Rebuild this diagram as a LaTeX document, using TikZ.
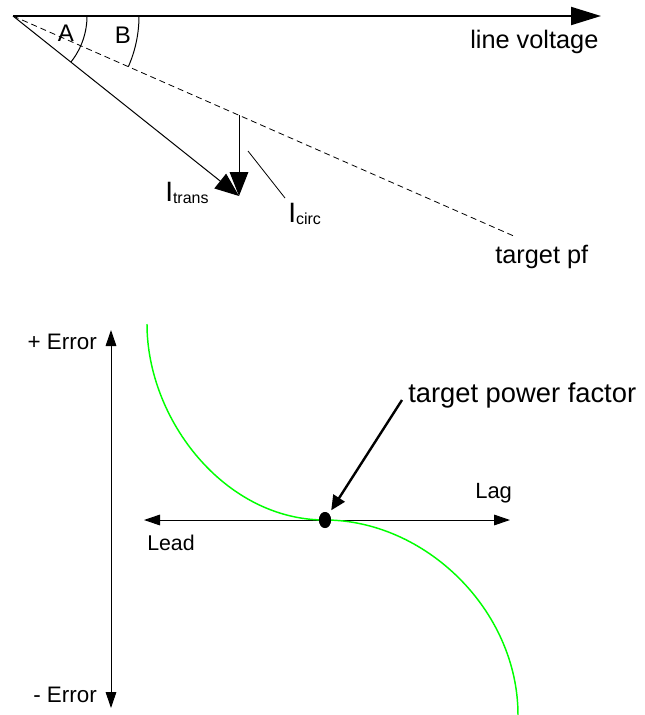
\documentclass[tikz,border=0pt]{standalone}
\usepackage{fontspec}
\setmainfont{Liberation Sans}
\usetikzlibrary{arrows.meta,shapes.geometric}

\tikzset{
  lbl/.style={inner sep=0pt,font=\fontsize{#1}{#1}\selectfont},
  mainarrow/.style={line width=1.5pt,-{Triangle[length=22.5pt,width=13.5pt]}},
  vecarrow/.style={line width=0.75pt,-{Triangle[length=18pt,width=14pt]}},
  axis/.style={line width=0.75pt,>={Triangle[length=12pt,width=8pt]},<->},
  pointer/.style={line width=1.8pt,-{Triangle[length=11pt,width=10pt]},shorten >=3pt},
  dot/.style={ellipse,fill,inner sep=0pt,minimum width=9pt,minimum height=12pt},
  greencurve/.style={color={rgb, 255:red, 0; green, 255; blue, 0},line width=1.1pt}
}

\begin{document}
\begin{tikzpicture}[x=0.75pt,y=0.75pt,yscale=-1,xscale=1]
\path[use as bounding box] (0,0) rectangle (644,715);

%Phasor diagram
\coordinate (O) at (13,16);
\coordinate (V) at (601,16);
\coordinate (P) at (516,237);
\coordinate (tip) at (239,196);
\coordinate (C) at (239,115);
\coordinate (L1) at (248,151);
\coordinate (L2) at (285,198);

%Straight Lines
\draw[mainarrow] (O) -- (V);
\draw[line width=0.6pt,dash pattern={on 4.5pt off 3pt}] (O) -- (P);
\draw[vecarrow] (O) -- (tip);
\draw[vecarrow] (C) -- (tip);
\draw[line width=0.6pt] (L1) -- (L2);

%Shape: Arc
\draw[line width=0.75pt] (O) ++(0:74) arc[start angle=0,end angle=38.5,radius=74];
\draw[line width=0.75pt] (O) ++(0:126) arc[start angle=0,end angle=23.7,radius=126];

% Text Node
\node[lbl=18pt] (angA) at (66,33) {A};
\node[lbl=18pt] (angB) at (123,35) {B};
\node[lbl=19pt,anchor=west] (vline) at (470,42) {line voltage};
\node[lbl=19pt,anchor=west] (pf) at (495,257) {target pf};
\node[lbl=21pt,anchor=west] (itrans) at (165,193) {I\raisebox{-2pt}{\fontsize{12pt}{12pt}\selectfont trans}};
\node[lbl=21pt,anchor=west] (icirc) at (288,214) {I\raisebox{-2pt}{\fontsize{12pt}{12pt}\selectfont circ}};

%Error curve
\coordinate (Etop) at (111,330);
\coordinate (Ebot) at (111,708);
\coordinate (Hl) at (144,520);
\coordinate (Hr) at (510,520);
\coordinate (Gtop) at (147,324);
\coordinate (Gbot) at (518,715);
\node[dot] (tpf) at (325,520) {};

\draw[axis] (Etop) -- (Ebot);
\draw[axis] (Hl) -- (Hr);

%Curve Lines
\draw[greencurve] (Gtop) .. controls (147,420) and (225,520) .. (tpf.center) .. controls (425,520) and (518,610) .. (Gbot);
\node[dot] at (tpf) {};

% Text Node
\node[lbl=16.8pt,anchor=east] (perr) at (97,342) {+ Error};
\node[lbl=16.8pt,anchor=east] (merr) at (97,695) {- Error};
\node[lbl=16.5pt,anchor=west] (lag) at (475,493) {Lag};
\node[lbl=16pt,anchor=west] (lead) at (147,543) {Lead};
\node[lbl=20.5pt,anchor=west] (tpflabel) at (408,395) {target power factor};

\draw[pointer] ([shift={(-6,5)}]tpflabel.west) -- (tpf);

\end{tikzpicture}
\end{document}
